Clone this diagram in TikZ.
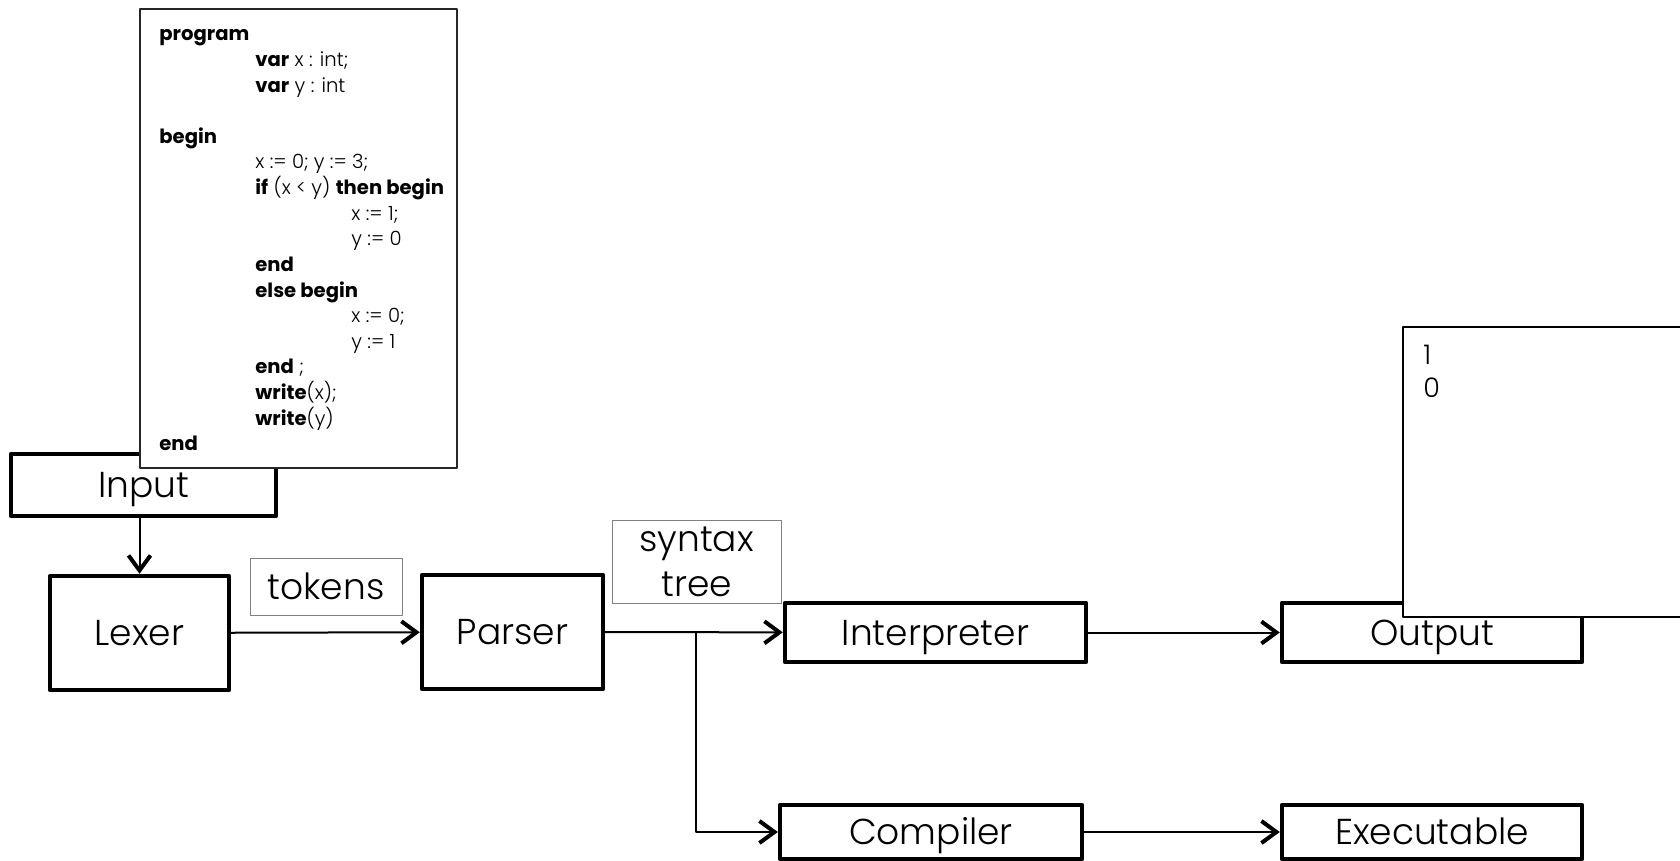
\documentclass[tikz,border=0pt]{standalone}
\usepackage{fontspec}
\setmainfont{Poppins}[UprightFont=* Light,BoldFont=* Bold]
\usetikzlibrary{arrows.meta}
\begin{document}
\begin{tikzpicture}[x=0.5pt,y=-0.5pt,line join=round,
	stage/.style={draw,line width=2.2pt,inner sep=0pt,text height=12.6pt,text depth=0pt,font=\fontsize{18}{22}\selectfont},
	tag/.style={draw=gray,line width=0.5pt,inner sep=0pt,align=center,font=\fontsize{18}{22.5}\selectfont},
	sheet/.style={draw,fill=white,line width=0.8pt,inner sep=0pt},
	arr/.style={line width=1pt,-{Straight Barb[length=7.5pt,width=11pt,line width=2pt]}}]
	\clip (0,0) rectangle (1680,861);
	\node[stage,minimum width=132.5pt,minimum height=31pt] (input) at (143.5,485) {Input};
	\node[sheet,draw=black!85,minimum width=158.5pt,minimum height=229.5pt] (code) at (298.5,238.5) {};
	\foreach \lvl/\row/\txt in {0/0/{\textbf{program}},1/1/{\textbf{var} x : int;},1/2/{\textbf{var} y : int},
		0/4/{\textbf{begin}},1/5/{x := 0; y := 3;},1/6/{\textbf{if} (x < y) \textbf{then begin}},2/7/{x := 1;},2/8/{y := 0},
		1/9/{\textbf{end}},1/10/{\textbf{else begin}},2/11/{x := 0;},2/12/{y := 1},1/13/{\textbf{end} ;},
		1/14/{\textbf{write}(x);},1/15/{\textbf{write}(y)},0/16/{\textbf{end}}}
		\node[anchor=base west,inner sep=0pt,font=\fontsize{9.8}{11}\selectfont] (line\row) at ({159+96*\lvl},{41+25.6*\row}) {\txt};
	\node[stage,minimum width=89.5pt,minimum height=57pt] (lexer) at (139.5,633) {Lexer};
	\node[stage,minimum width=90.5pt,minimum height=57pt] (parser) at (512.5,632) {Parser};
	\node[stage,minimum width=150.5pt,minimum height=29.5pt] (interp) at (935.5,632.5) {Interpreter};
	\node[stage,minimum width=150pt,minimum height=29.5pt] (output) at (1432,632.5) {Output};
	\node[stage,minimum width=151pt,minimum height=27pt] (compiler) at (931,832) {Compiler};
	\node[stage,minimum width=150pt,minimum height=27pt] (exec) at (1432,832) {Executable};
	\node[tag,text height=12.6pt,text depth=0pt,minimum width=76pt,minimum height=28.5pt] (tokens) at (326,586.5) {tokens};
	\node[tag,text depth=-3pt,minimum width=84.5pt,minimum height=41.5pt] (tree) at (696.5,561.5) {syntax\\tree};
	\node[sheet,minimum width=148.5pt,minimum height=145pt] (console) at (1551.5,472) {};
	\node[anchor=base west,inner sep=0pt,font=\fontsize{13.5}{15}\selectfont] (out1) at (1423,364) {1};
	\node[anchor=base west,inner sep=0pt,font=\fontsize{13.5}{15}\selectfont] (out2) at (1423,397) {0};
	\coordinate (split) at (696,632);
	\draw[arr] (lexer.north |- input.south) -- (lexer.north);
	\draw[arr] (lexer) -- (parser);
	\draw[arr] (parser) -- (interp);
	\draw[arr] (split) |- (compiler);
	\draw[arr] (interp) -- (output);
	\draw[arr] (compiler) -- (exec);
\end{tikzpicture}
\end{document}
